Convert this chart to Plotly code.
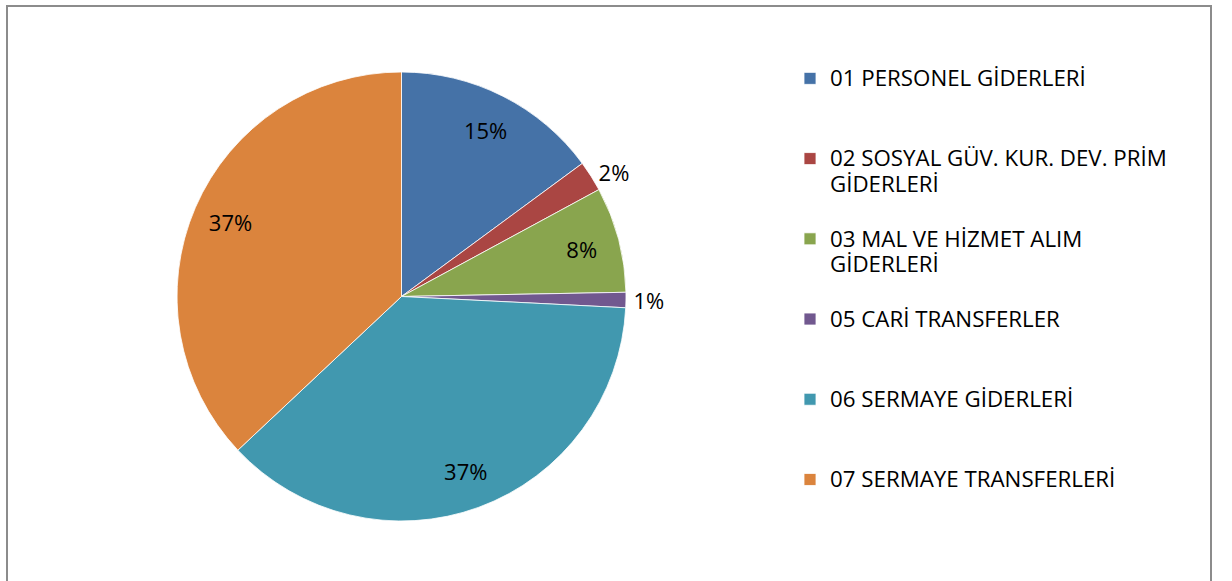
import plotly.graph_objects as go

labels = [
    "01 PERSONEL GİDERLERİ",
    "02 SOSYAL GÜV. KUR. DEV. PRİM<br>GİDERLERİ",
    "03 MAL VE HİZMET ALIM<br>GİDERLERİ",
    "05 CARİ TRANSFERLER",
    "06 SERMAYE GİDERLERİ",
    "07 SERMAYE TRANSFERLERİ",
]
values = [14.9, 2.2, 7.6, 1.1, 37.2, 37.0]
colors = ["#4572A7", "#AA4643", "#89A54E", "#71588F", "#4198AF", "#DB843D"]
text_positions = ["inside", "outside", "inside", "outside", "inside", "inside"]

LEG_FONT = 22.3     # visible legend text size
LEG_SLOT = 19.8     # legend line-height basis (sets slot spacing)

# each legend entry padded to three lines so the slots are evenly spaced
legend_labels = []
for lab in labels:
    parts = lab.split("<br>")
    styled = ["<span style='font-size:%spx'>%s</span>" % (LEG_FONT, p) for p in parts]
    styled += [" "] * (3 - len(parts))
    legend_labels.append("<br>".join(styled))

W, H = 1232, 581
cx, cy, r = 401.5, 296.5, 224.5
dom = dict(x=[(cx - r) / W, (cx + r) / W], y=[(H - cy - r) / H, (H - cy + r) / H])

fig = go.Figure()
# coloured pie
fig.add_trace(go.Pie(
    labels=legend_labels, values=values, sort=False,
    direction="clockwise", rotation=0,
    marker=dict(colors=colors, line=dict(color="white", width=0.8)),
    textinfo="none", domain=dom, hoverinfo="label+percent",
))
# transparent ring that carries the percentage labels further out
fig.add_trace(go.Pie(
    labels=legend_labels, values=values, sort=False,
    direction="clockwise", rotation=0, hole=0.66,
    marker=dict(colors=["rgba(0,0,0,0)"] * len(values), line=dict(width=0)),
    textinfo="percent", texttemplate="%{percent:.0%}",
    textposition=text_positions, insidetextorientation="horizontal",
    textfont=dict(color="black", size=22, family="Open Sans"),
    domain=dom, showlegend=False, hoverinfo="skip",
))

fig.update_layout(
    width=W, height=H,
    margin=dict(l=0, r=0, t=0, b=0),
    paper_bgcolor="white",
    showlegend=True,
    legend=dict(
        x=790 / W, y=1 - 59 / H, xanchor="left", yanchor="top",
        font=dict(family="Open Sans", size=LEG_SLOT, color="black"),
        valign="top", itemwidth=30, traceorder="normal",
    ),
    shapes=[dict(
        type="rect", xref="paper", yref="paper",
        x0=7 / W, x1=1211 / W, y0=-0.05, y1=1 - 6 / H,
        line=dict(color="#8c8c8c", width=2), fillcolor="rgba(0,0,0,0)",
    )],
)

fig.write_html("out.html", config={"displayModeBar": False},
               post_script="document.body.style.margin='0px';")
